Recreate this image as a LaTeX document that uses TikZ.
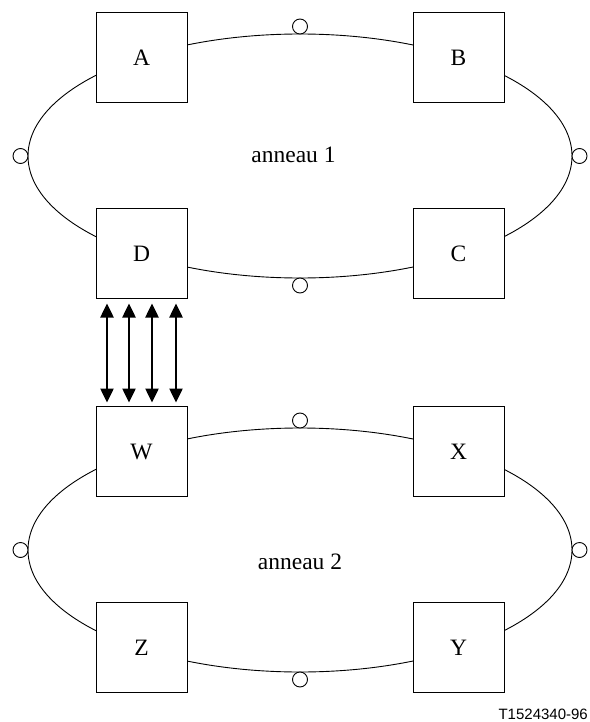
\documentclass[tikz,border=0pt]{standalone}
\usepackage{fontspec}
\setmainfont{Liberation Serif}
\newfontfamily\labelfont{Liberation Sans}
\usetikzlibrary{shapes.geometric,arrows.meta,calc}
\begin{document}
\begin{tikzpicture}[x=1pt,y=-1pt,
  station/.style={draw,fill=white,line width=0.9pt,minimum width=91pt,minimum height=90pt,inner sep=0pt,outer sep=0pt,font=\fontsize{23.5}{23.5}\selectfont},
  ring/.style={draw,ellipse,line width=0.9pt,minimum width=544pt,minimum height=244pt,inner sep=0pt,outer sep=0pt},
  tap/.style={draw,circle,line width=0.9pt,minimum size=15pt,inner sep=0pt,outer sep=0pt,fill=white},
  link/.style={line width=2.5pt,{Triangle[width=13pt,length=14pt]}-{Triangle[width=13pt,length=14pt]},shorten <=5pt,shorten >=4pt},
  ringlabel/.style={font=\fontsize{23.5}{23.5}\selectfont,inner sep=0pt,anchor=base},
  reflabel/.style={font=\labelfont\fontsize{15}{15}\selectfont,anchor=base east,inner sep=0pt}]
\useasboundingbox (0,0) rectangle (589,722);

% ring 1
\node[ring] (ring1) at (300,156) {};
\node[tap,anchor=south] (t1n) at (ring1.north) {};
\node[tap,anchor=north] (t1s) at (ring1.south) {};
\node[tap,anchor=east] (t1w) at (ring1.west) {};
\node[tap,anchor=west] (t1e) at (ring1.east) {};
\node[station] (A) at (141.5,57.5) {A};
\node[station] (B) at (458.5,57.5) {B};
\node[station] (C) at (458.5,253.5) {C};
\node[station] (D) at (141.5,253.5) {D};
\node[ringlabel] (l1) at (293.5,163) {anneau 1};

% ring 2
\node[ring] (ring2) at (300,550) {};
\node[tap,anchor=south] (t2n) at (ring2.north) {};
\node[tap,anchor=north] (t2s) at (ring2.south) {};
\node[tap,anchor=west] (t2e) at (ring2.east) {};
\node[tap,anchor=east] (t2w) at (ring2.west) {};
\node[station] (W) at (141.5,451.5) {W};
\node[station] (X) at (458.5,451.5) {X};
\node[station] (Y) at (458.5,647.5) {Y};
\node[station] (Z) at (141.5,647.5) {Z};
\node[ringlabel] (l2) at (300,569) {anneau 2};

% links between D and W
\foreach \dx in {11,33,56,80}{
  \draw[link] ($(D.south west)+(\dx,0)$) -- ($(W.north west)+(\dx,0)$);
}

\node[reflabel] (ref) at (588,719) {T1524340-96};
\end{tikzpicture}
\end{document}
